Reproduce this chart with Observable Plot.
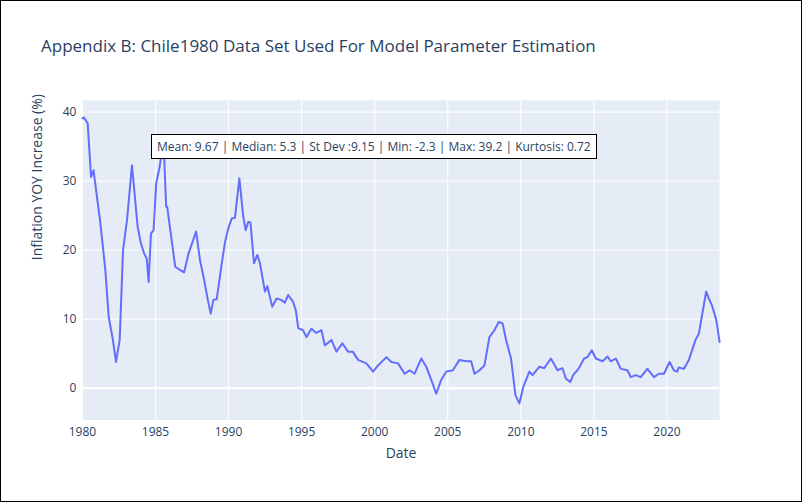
<!DOCTYPE html>
<html>
<head>
<meta charset="utf-8">
<script src="https://cdn.jsdelivr.net/npm/d3@7"></script>
<script src="https://cdn.jsdelivr.net/npm/@observablehq/plot@0.6"></script>
<style>
  body { margin: 0; font-family: "Open Sans", sans-serif; }
  #wrap { position: relative; width: 800px; height: 500px; border: 1px solid #000; background: #fff; overflow: hidden; }
  #title { position: absolute; left: 40px; top: 33px; font-size: 17px; color: #2a3f5f; }
  #stats { position: absolute; left: 150px; top: 133px; padding: 3px 5px; border: 1px solid #000; background: #fff; font-size: 12px; color: #2a3f5f; white-space: nowrap; }
  #chart { position: absolute; left: -1px; top: -1px; }
</style>
</head>
<body>
<div id="wrap">
  <div id="chart"></div>
  <div id="title">Appendix B: Chile1980 Data Set Used For Model Parameter Estimation</div>
  <div id="stats">Mean: 9.67 | Median: 5.3 | St Dev :9.15 | Min: -2.3 | Max: 39.2 | Kurtosis: 0.72</div>
</div>
<script>
// inflation series (decimal year, % yoy)
const years = [1980.0,1980.1,1980.36,1980.59,1980.77,1980.82,1981.23,1981.57,1981.8,1982.07,1982.3,1982.55,1982.78,1983.05,1983.39,1983.78,1984.0,1984.23,1984.4,1984.53,1984.69,1984.87,1985.05,1985.28,1985.55,1985.73,1985.8,1986.35,1986.69,1986.96,1987.26,1987.78,1988.05,1988.33,1988.58,1988.78,1988.96,1989.19,1989.53,1989.76,1989.99,1990.22,1990.44,1990.74,1991.01,1991.17,1991.35,1991.5,1991.74,1991.97,1992.15,1992.49,1992.65,1992.99,1993.29,1993.6,1993.85,1994.08,1994.42,1994.6,1994.77,1995.1,1995.33,1995.67,1996.0,1996.36,1996.59,1997.04,1997.38,1997.79,1998.18,1998.5,1998.86,1999.43,1999.89,2000.23,2000.8,2001.14,2001.6,2002.05,2002.39,2002.73,2003.19,2003.53,2003.87,2004.21,2004.55,2004.89,2005.35,2005.8,2006.26,2006.6,2006.83,2007.17,2007.51,2007.85,2008.19,2008.49,2008.75,2008.99,2009.33,2009.63,2009.9,2010.17,2010.58,2010.8,2011.26,2011.6,2012.06,2012.51,2012.85,2013.08,2013.38,2013.58,2013.94,2014.33,2014.55,2014.86,2015.13,2015.59,2015.93,2016.15,2016.5,2016.84,2017.29,2017.52,2017.86,2018.2,2018.66,2019.11,2019.45,2019.79,2020.18,2020.47,2020.7,2020.8,2021.15,2021.5,2021.95,2022.18,2022.46,2022.68,2022.86,2023.08,2023.37,2023.6];
const values = [39.1,39.2,38.4,30.6,31.6,30.6,23.9,17.1,10.3,7.2,3.8,7,20,24.3,32.3,23.4,21,19.5,18.8,15.4,22.4,22.9,29.7,32,36,26.3,26.3,17.6,17.1,16.8,19.5,22.7,18.5,15.7,12.8,10.8,12.8,12.9,18,21.2,23.2,24.6,24.7,30.4,24.8,22.9,24.1,24,18.1,19.3,18.1,14,14.8,11.8,13,12.8,12.4,13.5,12.5,11.3,8.7,8.4,7.4,8.6,8,8.4,6.2,7,5.3,6.5,5.3,5.3,4.1,3.6,2.4,3.3,4.5,3.8,3.6,2.1,2.6,2.1,4.3,3.1,1.2,-0.8,1.2,2.4,2.6,4.1,3.9,3.9,2.1,2.6,3.3,7.4,8.4,9.6,9.4,7,4.3,-1,-2.2,0.2,2.4,1.9,3.1,2.9,4.3,2.6,2.9,1.4,0.9,1.9,2.8,4.3,4.5,5.5,4.3,3.9,4.6,3.9,4.3,2.8,2.6,1.6,1.9,1.6,2.8,1.6,2.1,2.1,3.8,2.6,2.4,3.0,2.8,4.1,7,7.9,11.3,14,13,12,9.9,6.7];
const xTicks = [1980,1985,1990,1995,2000,2005,2010,2015,2020];
const yTicks = [0,10,20,30,40];

const data = years.map((y, i) => ({year: y, value: values[i]}));
const ink = "#2a3f5f";

const chart = Plot.plot({
  width: 802,
  height: 502,
  marginLeft: 82,
  marginRight: 82,
  marginTop: 100,
  marginBottom: 82,
  style: {fontFamily: "Open Sans", fontSize: "12px", color: ink, background: "transparent"},
  x: {domain: [1980, 2023.6], ticks: xTicks, tickFormat: d => String(d), label: null},
  y: {domain: [-4.6, 41.7], ticks: yTicks, label: null},
  marks: [
    Plot.frame({fill: "#E5ECF6", stroke: null}),
    Plot.gridX(xTicks, {stroke: "white", strokeOpacity: 1, strokeWidth: 1}),
    Plot.gridY(yTicks, {stroke: "white", strokeOpacity: 1, strokeWidth: 1}),
    Plot.ruleY([0], {stroke: "white", strokeWidth: 2}),
    Plot.axisX(xTicks, {tickSize: 0, tickPadding: 8, tickFormat: d => String(d), label: null}),
    Plot.axisY(yTicks, {tickSize: 0, tickPadding: 6, label: null}),
    Plot.line(data, {x: "year", y: "value", stroke: "#636efa", strokeWidth: 2}),
    Plot.text(["Date"], {frameAnchor: "bottom", dy: 38, fontSize: 14, fill: ink}),
    Plot.text(["Inflation YOY Increase (%)"], {frameAnchor: "left", dx: -45, rotate: -90, fontSize: 14, fill: ink})
  ]
});
document.getElementById("chart").append(chart);
</script>
</body>
</html>
